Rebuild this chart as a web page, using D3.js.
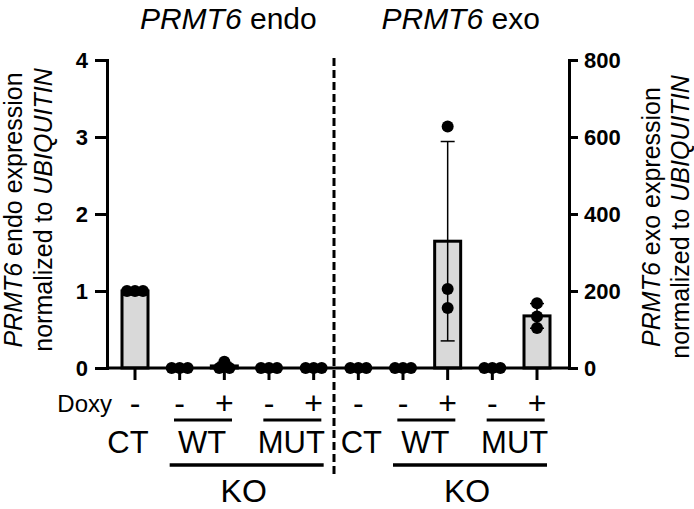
<!DOCTYPE html>
<html>
<head>
<meta charset="UTF-8">
<title>PRMT6 endo / exo</title>
<script src="https://cdn.jsdelivr.net/npm/d3@7"></script>
<style>
body { margin: 0; background: #fff; }
svg { font-family: Arial, "Liberation Sans", sans-serif; }
.axis path, .axis line { stroke: #000; stroke-width: 3; }
.axis text { font-size: 22px; font-weight: bold; fill: #000; }
.bar { fill: #d9d9d9; stroke: #000; stroke-width: 3; }
.err { stroke: #000; stroke-width: 1.5; fill: none; }
</style>
</head>
<body>
<script>
// values (3 replicates per condition)
var lineNames = ["CT", "WT", "WT", "MUT", "MUT"];
var doxy = ["-", "-", "+", "-", "+"];
var endoPoints = [[1.0, 1.0, 1.0], [0, 0, 0], [0.08, 0, 0], [0, 0, 0], [0, 0, 0]];
var exoPoints = [[0, 0, 0], [0, 0, 0], [627, 205, 156], [0, 0, 0], [168, 134, 104]];
var endoTicks = [0, 1, 2, 3, 4];
var exoTicks = [0, 200, 400, 600, 800];
var titles = ["endo", "exo"];

var W = 694, H = 509;
var plotTop = 60, base = 368, axL = 107, axR = 569;

var svg = d3.select("body").append("svg")
  .attr("width", W).attr("height", H);

var x = d3.scalePoint().domain(d3.range(10)).range([135, 537]);
var yL = d3.scaleLinear().domain([0, 4]).range([base, plotTop]);
var yR = d3.scaleLinear().domain([0, 800]).range([base, plotTop]);

// one row per bar
var rows = [];
endoPoints.forEach(function(p, i) { rows.push({ i: i, pts: p, y: yL }); });
exoPoints.forEach(function(p, i) { rows.push({ i: i + 5, pts: p, y: yR }); });
rows.forEach(function(r) {
  r.mean = d3.mean(r.pts);
  r.sd = d3.deviation(r.pts);
});

// bars
svg.selectAll(".bar").data(rows).enter().append("rect")
  .attr("class", "bar")
  .attr("x", function(d) { return x(d.i) - 13; })
  .attr("width", 26)
  .attr("y", function(d) { return d.y(d.mean); })
  .attr("height", function(d) { return base - d.y(d.mean); });

// error bars (mean +/- SD)
var errs = svg.selectAll(".errg").data(rows.filter(function(d) { return d.sd > 0.01 * d.y.domain()[1]; }))
  .enter().append("g");
errs.append("line").attr("class", "err")
  .attr("x1", function(d) { return x(d.i); }).attr("x2", function(d) { return x(d.i); })
  .attr("y1", function(d) { return d.y(d.mean + d.sd); })
  .attr("y2", function(d) { return d.y(Math.max(0, d.mean - d.sd)); });
[1, -1].forEach(function(s) {
  errs.append("line").attr("class", "err")
    .attr("x1", function(d) { return x(d.i) - 7; }).attr("x2", function(d) { return x(d.i) + 7; })
    .attr("y1", function(d) { return d.y(Math.max(0, d.mean + s * d.sd)); })
    .attr("y2", function(d) { return d.y(Math.max(0, d.mean + s * d.sd)); });
});

// baseline
svg.append("line")
  .attr("x1", axL).attr("x2", axR).attr("y1", base).attr("y2", base)
  .attr("stroke", "#000").attr("stroke-width", 3);

// category ticks below baseline
svg.selectAll(".ctick").data(d3.range(10)).enter().append("line")
  .attr("x1", function(d) { return x(d); }).attr("x2", function(d) { return x(d); })
  .attr("y1", base).attr("y2", base + 12)
  .attr("stroke", "#000").attr("stroke-width", 3);

// simple beeswarm so equal values sit side by side
function swarm(ys, D) {
  var placed = [];
  ys.forEach(function(yy) {
    var cands = [0];
    placed.forEach(function(p) {
      var dy = Math.abs(p.y - yy);
      if (dy < D) {
        var dx = Math.sqrt(D * D - dy * dy);
        cands.push(p.x - dx, p.x + dx);
      }
    });
    cands.sort(function(a, b) { return Math.abs(a) - Math.abs(b) || a - b; });
    var best = cands.find(function(c) {
      return placed.every(function(p) {
        return Math.hypot(p.x - c, p.y - yy) >= D - 0.01;
      });
    });
    placed.push({ x: best, y: yy });
  });
  return placed;
}

var dots = [];
rows.forEach(function(r) {
  swarm(r.pts.map(function(v) { return r.y(v); }), 8).forEach(function(p) {
    dots.push({ cx: x(r.i) + p.x, cy: p.y });
  });
});
svg.selectAll(".dot").data(dots).enter().append("circle")
  .attr("cx", function(d) { return d.cx; })
  .attr("cy", function(d) { return d.cy; })
  .attr("r", 6).attr("fill", "#000");

// axes
svg.append("g").attr("class", "axis")
  .attr("transform", "translate(" + axL + ",0)")
  .call(d3.axisLeft(yL).tickValues(endoTicks).tickFormat(d3.format("d")).tickSize(12).tickPadding(7));
svg.append("g").attr("class", "axis")
  .attr("transform", "translate(" + axR + ",0)")
  .call(d3.axisRight(yR).tickValues(exoTicks).tickSize(9).tickPadding(6));

// dashed divider
var mid = (x(4) + x(5)) / 2 - 2;
svg.append("line")
  .attr("x1", mid).attr("x2", mid).attr("y1", 58).attr("y2", 478)
  .attr("stroke", "#000").attr("stroke-width", 3)
  .attr("stroke-dasharray", "8,4");

// titles
titles.forEach(function(t, k) {
  var cx = k === 0 ? (x(0) + x(4)) / 2 + 4 : (x(5) + x(9)) / 2 + 13;
  var tx = svg.append("text").attr("x", cx).attr("y", 29)
    .attr("text-anchor", "middle").style("font-size", "30px");
  tx.append("tspan").style("font-style", "italic").text("PRMT6");
  tx.append("tspan").text(" " + t);
});

// y axis labels (two lines each, rotated)
function yLabel(xs, name, dy) {
  var cy = (plotTop + base) / 2 + dy;
  var l1 = svg.append("text").attr("transform", "translate(" + xs[0] + "," + cy + ") rotate(-90)")
    .attr("text-anchor", "middle").style("font-size", "25px");
  l1.append("tspan").style("font-style", "italic").text("PRMT6");
  l1.append("tspan").text(" " + name + " expression");
  var l2 = svg.append("text").attr("transform", "translate(" + xs[1] + "," + cy + ") rotate(-90)")
    .attr("text-anchor", "middle").style("font-size", "25px");
  l2.append("tspan").text("normalized to ");
  l2.append("tspan").style("font-style", "italic").text("UBIQUITIN");
}
yLabel([22, 52], "endo", -4);
yLabel([660, 689], "exo", 3);

// Doxy row
svg.append("text").attr("x", 112).attr("y", 412).attr("text-anchor", "end")
  .style("font-size", "24px").text("Doxy");
svg.selectAll(".pm").data(d3.range(10)).enter().append("text")
  .attr("x", function(d) { return x(d); }).attr("y", 414)
  .attr("text-anchor", "middle").style("font-size", "32px")
  .text(function(d) { return doxy[d % 5]; });

// cell line row
[0, 5].forEach(function(o) {
  svg.append("text").attr("x", x(o) - (o ? -3 : 7)).attr("y", 453)
    .attr("text-anchor", "middle").style("font-size", "31px").text(lineNames[0]);
  [1, 3].forEach(function(j) {
    var cx = (x(o + j) + x(o + j + 1)) / 2;
    svg.append("line").attr("x1", cx - 28).attr("x2", cx + 30)
      .attr("y1", 420).attr("y2", 420).attr("stroke", "#000").attr("stroke-width", 3);
    svg.append("text").attr("x", cx).attr("y", 453)
      .attr("text-anchor", "middle").style("font-size", "31px").text(lineNames[j]);
  });
  var kx = (x(o + 1) + x(o + 4)) / 2;
  svg.append("line").attr("x1", kx - 77).attr("x2", kx + 77)
    .attr("y1", 465).attr("y2", 465).attr("stroke", "#000").attr("stroke-width", 3.5);
  svg.append("text").attr("x", kx - 3).attr("y", 502)
    .attr("text-anchor", "middle").style("font-size", "32px").text("KO");
});
</script>
</body>
</html>
